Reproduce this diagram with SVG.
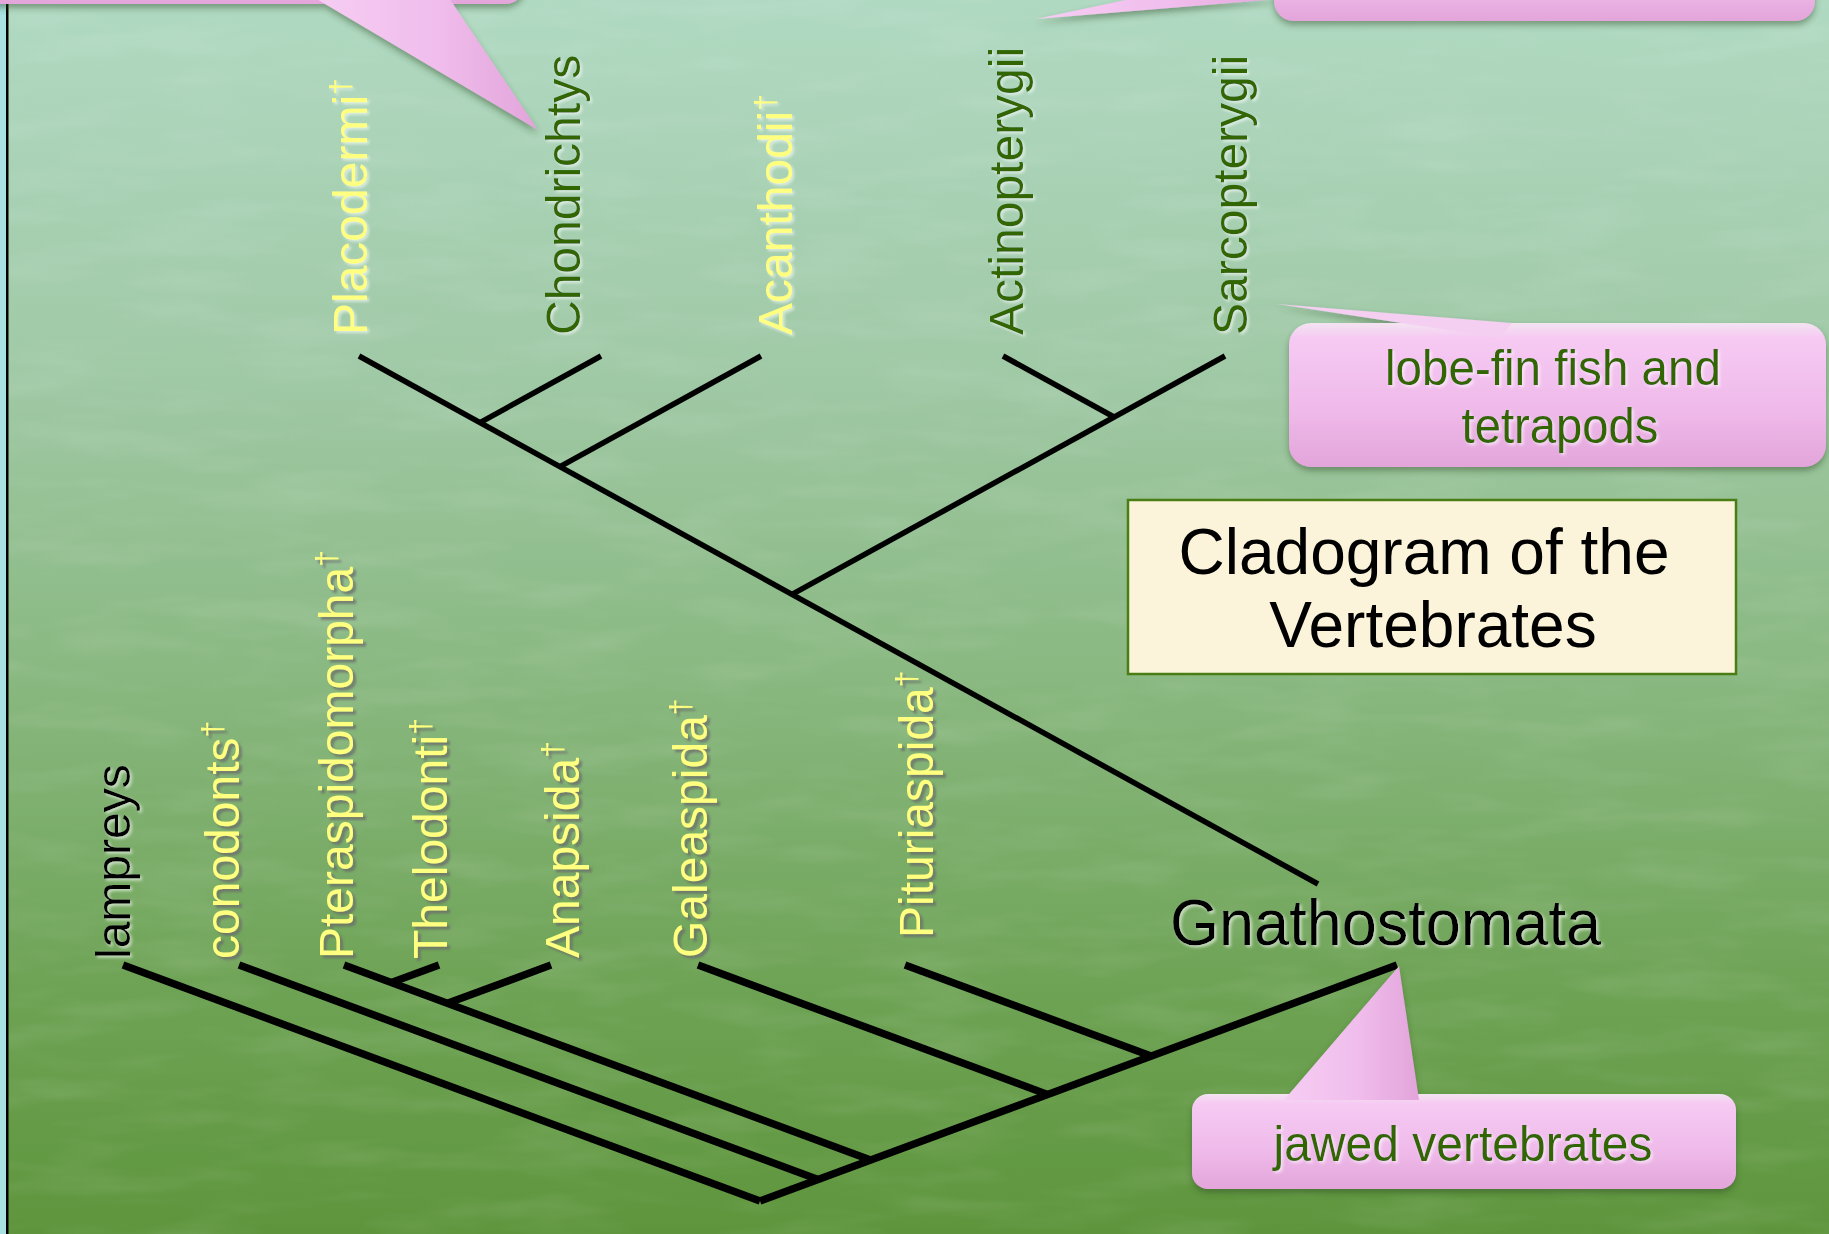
<svg xmlns="http://www.w3.org/2000/svg" width="1829" height="1234" viewBox="0 0 1829 1234">
  <defs>
    <linearGradient id="bg" x1="0" y1="0" x2="0" y2="1">
      <stop offset="0" stop-color="#b0d9c2"/>
      <stop offset="0.3" stop-color="#a0c9a6"/>
      <stop offset="0.55" stop-color="#89b880"/>
      <stop offset="0.8" stop-color="#6ea355"/>
      <stop offset="1" stop-color="#5e953c"/>
    </linearGradient>
    <linearGradient id="pink" x1="0" y1="0" x2="0" y2="1">
      <stop offset="0" stop-color="#f3e4f1"/>
      <stop offset="0.1" stop-color="#f6caf3"/>
      <stop offset="0.6" stop-color="#efbaea"/>
      <stop offset="1" stop-color="#e3a5da"/>
    </linearGradient>
    <linearGradient id="pinkTip" x1="0" y1="0" x2="1" y2="0">
      <stop offset="0" stop-color="#f6cdf3"/>
      <stop offset="0.55" stop-color="#f0bdec"/>
      <stop offset="1" stop-color="#e2a4da"/>
    </linearGradient>
    <filter id="marble" x="0" y="0" width="100%" height="100%">
      <feTurbulence type="fractalNoise" baseFrequency="0.008 0.035" numOctaves="3" seed="11"/>
      <feColorMatrix type="matrix" values="0 0 0 0 1  0 0 0 0 1  0 0 0 0 1  1.6 0 0 0 -0.7"/>
    </filter>
    <filter id="boxShadow" x="-10%" y="-20%" width="120%" height="150%">
      <feDropShadow dx="0" dy="4" stdDeviation="3" flood-color="#2d4a22" flood-opacity="0.45"/>
    </filter>
    <filter id="glowLight" x="-10%" y="-10%" width="120%" height="120%">
      <feDropShadow dx="2" dy="2" stdDeviation="1.5" flood-color="#ffffff" flood-opacity="0.6"/>
    </filter>
    <filter id="shadeGrey" x="-10%" y="-10%" width="120%" height="120%">
      <feDropShadow dx="3" dy="3" stdDeviation="1.2" flood-color="#6a6a6a" flood-opacity="0.75"/>
    </filter>
  </defs>
  <style>
    .lbl { font-family: "Liberation Sans", Arial, sans-serif; font-size: 48px; }
    .yel { fill: #ffff80; }
    .grn { fill: #336600; }
    .blk { fill: #000000; }
    .dag { font-size: 30px; }
    .callTxt { font-family: "Liberation Sans", Arial, sans-serif; font-size: 50px; fill: #336600; text-anchor: middle; }
    .title { font-family: "Liberation Sans", Arial, sans-serif; font-size: 64px; fill: #000000; text-anchor: middle; }
    .top { stroke: #000; stroke-width: 5.5; fill: none; }
    .bot { stroke: #000; stroke-width: 7.5; fill: none; }
  </style>

  <!-- background -->
  <rect x="0" y="0" width="1829" height="1234" fill="url(#bg)"/>
  <rect x="0" y="0" width="1829" height="1234" filter="url(#marble)" opacity="0.12"/>
  <rect x="0" y="0" width="6" height="1234" fill="#a9e0e2"/>
  <rect x="6" y="0" width="2.5" height="1234" fill="#000"/>

  <!-- branches of the tree -->
  <g id="connectors">
    <g class="top">
      <line x1="359" y1="356" x2="1318" y2="884"/>
      <line x1="601" y1="356" x2="480" y2="422.6"/>
      <line x1="761" y1="356" x2="560" y2="466.6"/>
      <line x1="1225" y1="356" x2="792" y2="594.4"/>
      <line x1="1003" y1="356" x2="1114" y2="417"/>
    </g>
    <g class="bot">
      <line x1="123" y1="965" x2="760" y2="1201"/>
      <line x1="760" y1="1201" x2="1397" y2="965"/>
      <line x1="239" y1="965" x2="818" y2="1179.5"/>
      <line x1="344" y1="965" x2="870.5" y2="1160"/>
      <line x1="439" y1="965" x2="391.5" y2="982.6"/>
      <line x1="551" y1="965" x2="447.5" y2="1003.3"/>
      <line x1="698" y1="965" x2="1047.5" y2="1094.5"/>
      <line x1="905" y1="965" x2="1151" y2="1056"/>
    </g>
  </g>

  <!-- upper taxa -->
  <g filter="url(#glowLight)" class="lbl">
    <g id="placodermi"><text class="yel" transform="translate(367,335) rotate(-90)">Placodermi<tspan class="dag" dy="-16">†</tspan></text></g>
    <g id="chondrichtys"><text class="grn" transform="translate(580,335) rotate(-90)">Chondrichtys</text></g>
    <g id="acanthodii"><text class="yel" transform="translate(792,335) rotate(-90)">Acanthodii<tspan class="dag" dy="-16">†</tspan></text></g>
    <g id="actinopterygii"><text class="grn" transform="translate(1023,335) rotate(-90)">Actinopterygii</text></g>
    <g id="sarcopterygii"><text class="grn" transform="translate(1247,335) rotate(-90)">Sarcopterygii</text></g>
  </g>

  <!-- lower taxa -->
  <g filter="url(#glowLight)" class="lbl">
    <g id="lampreys"><text class="blk" transform="translate(130,959) rotate(-90)">lampreys</text></g>
  </g>
  <g filter="url(#shadeGrey)" class="lbl">
    <g id="conodonts"><text class="yel" transform="translate(239,959) rotate(-90)">conodonts<tspan class="dag" dy="-16">†</tspan></text></g>
    <g id="pteraspidomorpha"><text class="yel" transform="translate(353,959) rotate(-90)">Pteraspidomorpha<tspan class="dag" dy="-16">†</tspan></text></g>
    <g id="thelodonti"><text class="yel" transform="translate(447,959) rotate(-90)">Thelodonti<tspan class="dag" dy="-16">†</tspan></text></g>
    <g id="anapsida"><text class="yel" transform="translate(579,958) rotate(-90)">Anapsida<tspan class="dag" dy="-16">†</tspan></text></g>
    <g id="galeaspida"><text class="yel" transform="translate(707,958) rotate(-90)">Galeaspida<tspan class="dag" dy="-16">†</tspan></text></g>
    <g id="pituriaspida"><text class="yel" transform="translate(933,938) rotate(-90)">Pituriaspida<tspan class="dag" dy="-16">†</tspan></text></g>
  </g>

  <!-- clade name -->
  <g id="gnathostomata" filter="url(#glowLight)">
    <text x="1170" y="945" font-family="Liberation Sans, Arial, sans-serif" font-size="64" fill="#000" textLength="431" lengthAdjust="spacingAndGlyphs">Gnathostomata</text>
  </g>

  <!-- title panel -->
  <g id="title">
    <rect x="1128" y="500" width="608" height="174" fill="#fcf4da" stroke="#4a7d14" stroke-width="2.5"/>
    <text class="title" x="1424" y="574">Cladogram of the</text>
    <text class="title" x="1433" y="647">Vertebrates</text>
  </g>

  <!-- callout at the top left, mostly off the page -->
  <g id="callout-top-left" filter="url(#boxShadow)">
    <rect x="-30" y="-80" width="555" height="84" rx="20" fill="url(#pink)"/>
    <polygon points="315,-2 449,-2 538,130" fill="url(#pinkTip)"/>
  </g>

  <!-- callout at the top right, mostly off the page -->
  <g id="callout-top-right" filter="url(#boxShadow)">
    <polygon points="1036,19 1135,-2 1290,-2" fill="url(#pinkTip)"/>
    <rect x="1274" y="-70" width="541" height="91" rx="20" fill="url(#pink)"/>
  </g>

  <!-- lobe-fin callout -->
  <g id="callout-lobe-fin">
    <g filter="url(#boxShadow)">
      <rect x="1289" y="323" width="537" height="144" rx="22" fill="url(#pink)"/>
      <polygon points="1277,304 1512,323 1500,338" fill="#f4cff1"/>
    </g>
    <g filter="url(#glowLight)">
      <text class="callTxt" x="1553" y="385" textLength="336" lengthAdjust="spacingAndGlyphs">lobe-fin fish and</text>
      <text class="callTxt" x="1560" y="443" textLength="197" lengthAdjust="spacingAndGlyphs">tetrapods</text>
    </g>
  </g>

  <!-- jawed vertebrates callout -->
  <g id="callout-jawed">
    <g filter="url(#boxShadow)">
      <rect x="1192" y="1094" width="544" height="95" rx="16" fill="url(#pink)"/>
      <polygon points="1399,966 1284,1100 1419,1100" fill="url(#pinkTip)"/>
    </g>
    <g filter="url(#glowLight)">
      <text class="callTxt" x="1463" y="1161" textLength="379" lengthAdjust="spacingAndGlyphs">jawed vertebrates</text>
    </g>
  </g>
</svg>
